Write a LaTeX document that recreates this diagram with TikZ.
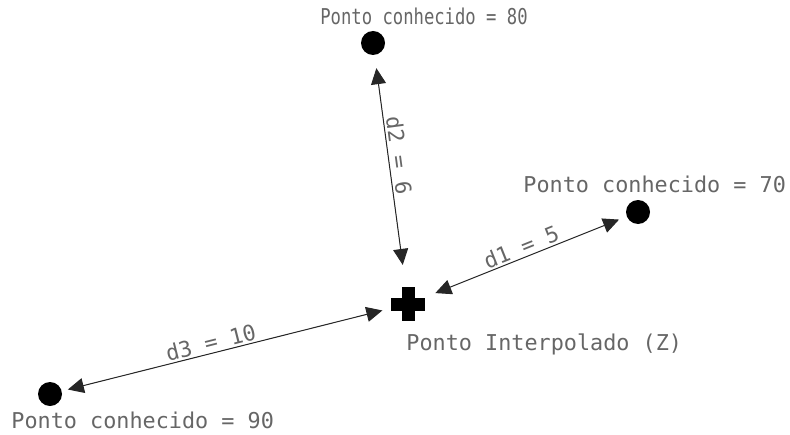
\documentclass[tikz,border=0pt]{standalone}
\usepackage{fontspec}
\usepackage{tikz}
\usetikzlibrary{positioning,arrows.meta}
\newfontfamily\cadfont{DejaVu Sans Mono}

\begin{document}
\begin{tikzpicture}[
  x=0.5pt, y=0.5pt,
  known/.style={circle, fill=black, inner sep=0pt, minimum size=12pt},
  interp/.style={circle, inner sep=0pt, minimum size=17pt},
  ptlbl/.style={font=\cadfont\fontsize{10.9}{13}\selectfont, text=black!60, inner sep=0pt, anchor=base west},
  dlbl/.style={font=\cadfont\fontsize{10.9}{13}\selectfont, text=black!60, sloped, above, inner sep=1pt},
  arr/.style={{Triangle[length=8pt,width=7.5pt]}-{Triangle[length=8pt,width=7.5pt]}, line width=0.5pt, draw=black!85, fill=black}
]
\useasboundingbox (0,0) rectangle (790,434);

% known points and the interpolated point
\node[known] (p80) at (373,391) {};
\node[known] (p70) at (638,222) {};
\node[known] (p90) at (50,40) {};
\node[interp] (z) at (408,130) {};
\fill ([xshift=-8.5pt,yshift=-3.25pt]z.center) rectangle ([xshift=8.5pt,yshift=3.25pt]z.center);
\fill ([xshift=-3.25pt,yshift=-8.5pt]z.center) rectangle ([xshift=3.25pt,yshift=8.5pt]z.center);

\node[ptlbl, xscale=0.79] (l80) at ([xshift=-26.5pt,yshift=9pt]p80.center) {Ponto conhecido = 80};
\node[ptlbl] (l70) at ([xshift=-57.5pt,yshift=10pt]p70.center) {Ponto conhecido = 70};
\node[ptlbl] (l90) at ([xshift=-19.5pt,yshift=-17pt]p90.center) {Ponto conhecido = 90};
\node[ptlbl] (lz) at ([xshift=-1pt,yshift=-23pt]z.center) {Ponto Interpolado (Z)};

% distances
\draw[arr, shorten <=6.5pt, shorten >=11pt] (p80) -- node[dlbl, pos=0.44] {d2 = 6} (z);
\draw[arr, shorten <=6pt, shorten >=4pt] (z) -- node[dlbl, pos=0.5] {d1 = 5} (p70);
\draw[arr, shorten <=3pt, shorten >=4.5pt] (p90) -- node[dlbl, pos=0.46] {d3 = 10} (z);
\end{tikzpicture}
\end{document}
